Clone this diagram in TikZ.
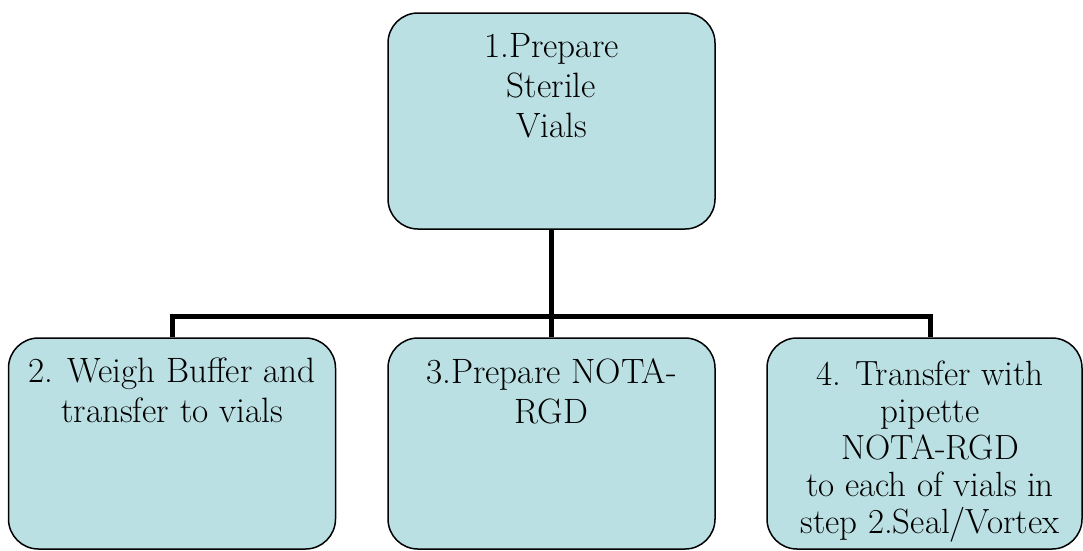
\documentclass[tikz,border=0pt]{standalone}
\usetikzlibrary{positioning}
\definecolor{vialblue}{HTML}{BBE0E3}
\tikzset{
  stepbox/.style={draw=black, line width=1.5pt, fill=vialblue, rounded corners=30pt,
    minimum width=327pt, minimum height=211pt, inner sep=0pt},
  steptext/.style={anchor=north, align=center, inner sep=0pt,
    font=\fontsize{35.2}{40}\selectfont},
  link/.style={line width=5pt, black},
}
\begin{document}
\begin{tikzpicture}[x=1pt, y=-1pt]
    \useasboundingbox (0,0) rectangle (1083,550);

    % the four steps
    \node[stepbox, minimum height=216pt] (s1) at (551.5,121) {};
    \node[stepbox] (s2) at (172,443.5) {};
    \node[stepbox] (s3) at (551.5,443.5) {};
    \node[stepbox, minimum width=315pt] (s4) at (924.5,443.5) {};

    \node[steptext] (t1) at (551.5,33) {1.Prepare\\Sterile\\Vials};
    \node[steptext] (t2) at (172,358) {2. Weigh Buffer and\\transfer to vials};
    \node[steptext] (t3) at (551.5,358) {3.Prepare NOTA-\\RGD};
    \node[steptext, font=\fontsize{35}{37}\selectfont] (t4) at (930,361)
        {4. Transfer with\\pipette\\NOTA-RGD\\to each of vials in\\step 2.Seal/Vortex};

    % tree lines
    \coordinate (bus) at (551.5,316);
    \draw[link] (s1.south) -- (s3.north);
    \draw[link] (s2.north) |- (bus) -| (s4.north -| t4.north);
\end{tikzpicture}
\end{document}
